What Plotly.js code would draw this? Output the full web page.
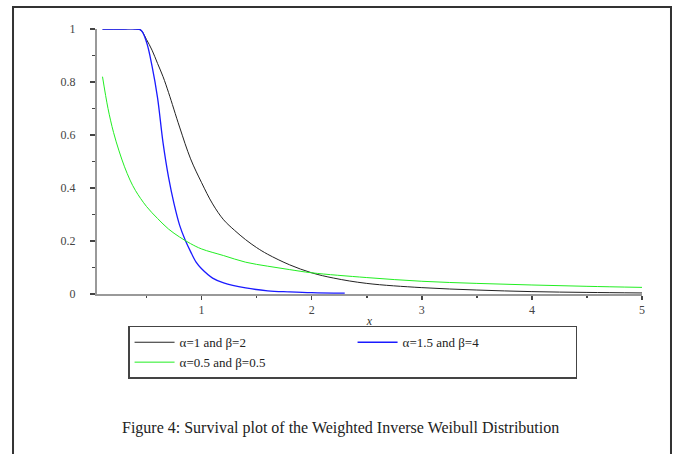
<!DOCTYPE html>
<html>
<head>
<meta charset="utf-8">
<script src="https://cdn.plot.ly/plotly-3.0.1.min.js"></script>
<style>html,body{margin:0;padding:0;background:#fff;}#chart{width:679px;height:454px;}</style>
</head>
<body>
<div id="chart"></div>
<script>
// Series 1: alpha=1, beta=2 (black)
const xBlack = [0.1,0.2,0.3,0.4,0.45,0.5,0.55,0.6,0.65,0.7,0.8,0.9,1.0,1.1,1.2,1.3,1.4,1.5,1.6,1.8,2.0,2.2,2.5,3.0,3.5,4.0,4.5,5.0];
const yBlack = [1,1,1,1,0.995,0.96,0.92,0.87,0.82,0.76,0.63,0.51,0.42,0.34,0.28,0.24,0.205,0.175,0.15,0.11,0.08,0.06,0.04,0.024,0.015,0.009,0.006,0.004];
// Series 2: alpha=1.5, beta=4 (blue)
const xBlue = [0.1,0.2,0.3,0.4,0.45,0.5,0.55,0.6,0.65,0.7,0.75,0.8,0.85,0.9,0.95,1.0,1.1,1.2,1.4,1.6,1.8,2.0,2.3];
const yBlue = [1,1,1,1,0.995,0.95,0.86,0.74,0.57,0.44,0.34,0.26,0.205,0.16,0.12,0.095,0.06,0.042,0.023,0.012,0.008,0.005,0.003];
// Series 3: alpha=0.5, beta=0.5 (green)
const xGreen = [0.1,0.15,0.2,0.25,0.3,0.35,0.4,0.5,0.6,0.7,0.8,0.9,1.0,1.2,1.4,1.6,1.8,2.0,2.5,3.0,3.5,4.0,4.5,5.0];
const yGreen = [0.82,0.70,0.61,0.54,0.48,0.43,0.39,0.33,0.285,0.245,0.215,0.19,0.17,0.145,0.12,0.105,0.092,0.08,0.062,0.048,0.04,0.034,0.029,0.025];

const names = ["\u03b1=1 and \u03b2=2", "\u03b1=1.5 and \u03b2=4", "\u03b1=0.5 and \u03b2=0.5"];
const xTicks = [1,2,3,4,5];
const yTicks = [0,0.2,0.4,0.6,0.8,1];
const yTickText = ["0","0.2","0.4","0.6","0.8","1"];
const caption = "Figure 4: Survival plot of the Weighted Inverse Weibull Distribution";

const serif = "Liberation Serif, Times New Roman, serif";

const traces = [
  {x: xBlack, y: yBlack, name: names[0], mode: "lines", line: {color: "#222222", width: 1, shape: "spline"}},
  {x: xBlue, y: yBlue, name: names[1], mode: "lines", line: {color: "#1a1aff", width: 1.3, shape: "spline"}},
  {x: xGreen, y: yGreen, name: names[2], mode: "lines", line: {color: "#22ee22", width: 1, shape: "spline"}}
];

const layout = {
  width: 679, height: 454,
  margin: {l: 97, r: 37, t: 29, b: 160},
  paper_bgcolor: "#fff", plot_bgcolor: "#fff",
  showlegend: true,
  font: {family: serif, color: "#333"},
  xaxis: {
    range: [0.05, 5.0], showgrid: false, zeroline: false,
    showline: true, linecolor: "#999", linewidth: 2,
    tickvals: xTicks, ticktext: xTicks.map(String),
    ticks: "outside", ticklen: 4, tickcolor: "#444", tickwidth: 1.5,
    minor: {tickvals: [0.5,1.5,2.5,3.5,4.5], ticks: "outside", ticklen: 2, tickcolor: "#444", tickwidth: 1.5},
    tickfont: {family: serif, size: 12, color: "#444"},
    title: {text: "<i>x</i>", font: {family: serif, size: 12, color: "#333"}, standoff: 0}
  },
  yaxis: {
    range: [0, 1], showgrid: false, zeroline: false,
    showline: true, linecolor: "#999", linewidth: 2,
    tickvals: yTicks, ticktext: yTickText.map(t => t + "\u2002\u2002"),
    ticks: "outside", ticklen: 5, tickcolor: "#444", tickwidth: 1.5,
    minor: {tickvals: [0.1,0.3,0.5,0.7,0.9], ticks: "outside", ticklen: 3, tickcolor: "#444", tickwidth: 1.5},
    tickfont: {family: serif, size: 12, color: "#444"}
  },
  legend: {
    orientation: "h", x: 0.057, xanchor: "left", y: -0.12, yanchor: "top",
    bordercolor: "#444", borderwidth: 1.5, bgcolor: "#fff",
    font: {family: serif, size: 13, color: "#222"},
    entrywidth: 168, entrywidthmode: "pixels", tracegroupgap: 0,
    itemwidth: 40
  },
  shapes: [
    {type: "rect", xref: "paper", yref: "paper", x0: -0.1541, x1: 1.0532, y0: -0.72, y1: 1.083,
     line: {color: "#333", width: 2}, fillcolor: "rgba(0,0,0,0)", layer: "below"}
  ],
  annotations: [
    {xref: "paper", yref: "paper", x: 0.446, y: -0.506, xanchor: "center", yanchor: "middle",
     text: caption, showarrow: false, font: {family: serif, size: 16, color: "#222"}}
  ]
};

Plotly.newPlot("chart", traces, layout, {displayModeBar: false, staticPlot: true});
</script>
</body>
</html>
